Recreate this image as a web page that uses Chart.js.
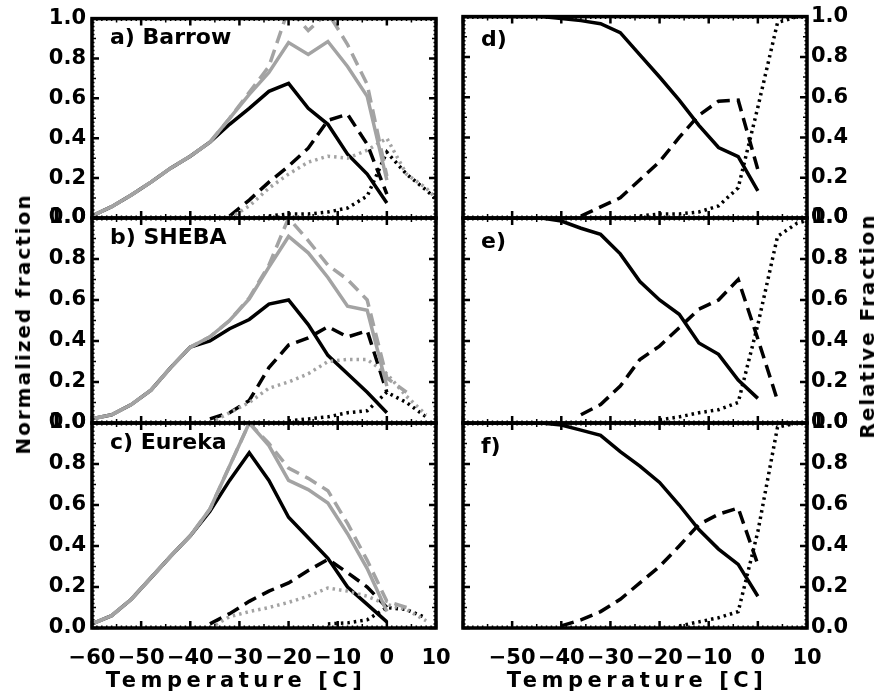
<!DOCTYPE html>
<html><head><meta charset="utf-8">
<script src="https://cdn.jsdelivr.net/npm/chart.js@4.4.1/dist/chart.umd.min.js"></script>
<style>
html,body{margin:0;padding:0;background:#fff;}
#wrap{position:relative;width:874px;height:695px;overflow:hidden;background:#fff;}
canvas{position:absolute;left:0;top:0;}
.t{position:absolute;font-family:"DejaVu Sans";font-weight:bold;color:#000;white-space:nowrap;}
</style></head><body>
<div id="wrap">
<canvas id="pa" width="874" height="695"></canvas>
<canvas id="pb" width="874" height="695"></canvas>
<canvas id="pc" width="874" height="695"></canvas>
<canvas id="pd" width="874" height="695"></canvas>
<canvas id="pe" width="874" height="695"></canvas>
<canvas id="pf" width="874" height="695"></canvas>
<div class="t" style="left:236px;top:670px;font-size:21px;line-height:21px;letter-spacing:4.5px;transform:translateX(-50%);">Temperature [C]</div>
<div class="t" style="left:637px;top:670px;font-size:21px;line-height:21px;letter-spacing:4.5px;transform:translateX(-50%);">Temperature [C]</div>
<div class="t" style="left:23px;top:324px;font-size:20px;line-height:20px;letter-spacing:2px;transform:translate(-50%,-50%) rotate(-90deg);">Normalized fraction</div>
<div class="t" style="left:867px;top:326px;font-size:20px;line-height:20px;letter-spacing:2px;transform:translate(-50%,-50%) rotate(-90deg);">Relative Fraction</div>
</div>
<script>
const N = null;
const temps = [-60,-56,-52,-48,-44,-40,-36,-32,-28,-24,-20,-16,-12,-8,-4,0,4,8,12];
const yTicks = [0.0,0.2,0.4,0.6,0.8,1.0];
const xTicks = [-60,-50,-40,-30,-20,-10,0,10];
const panelLabels = ['a) Barrow','b) SHEBA','c) Eureka','d)','e)','f)'];

// a) Barrow
const barrowBlackSolid  = [0.01,0.057,0.115,0.18,0.25,0.31,0.38,0.47,0.55,0.635,0.675,0.55,0.47,0.32,0.22,0.075,N,N,N];
const barrowGreySolid   = [0.01,0.057,0.115,0.18,0.25,0.31,0.38,0.5,0.62,0.73,0.88,0.82,0.885,0.76,0.61,0.19,N,N,N];
const barrowGreyDashed  = [0.01,0.057,0.115,0.18,0.25,0.31,0.38,0.5,0.63,0.76,1.05,0.94,1.03,0.87,0.67,0.21,N,N,N];
const barrowBlackDashed = [N,N,N,N,N,N,N,0.01,0.09,0.18,0.26,0.35,0.49,0.52,0.37,0.12,N,N,N];
const barrowGreyDotted  = [N,N,N,N,N,N,N,0.0,0.06,0.15,0.22,0.28,0.31,0.3,0.34,0.4,0.22,0.15,0.05];
const barrowBlackDotted = [N,N,N,N,N,N,N,N,N,0.01,0.02,0.02,0.03,0.05,0.11,0.33,0.22,0.14,0.05];
// b) SHEBA
const shebaBlackSolid  = [0.02,0.04,0.09,0.16,0.27,0.37,0.4,0.46,0.505,0.58,0.6,0.48,0.33,0.24,0.15,0.05,N,N,N];
const shebaGreySolid   = [0.02,0.04,0.09,0.16,0.27,0.37,0.42,0.5,0.605,0.76,0.91,0.83,0.71,0.57,0.55,0.18,N,N,N];
const shebaGreyDashed  = [0.02,0.04,0.09,0.16,0.27,0.37,0.42,0.5,0.61,0.77,1.0,0.89,0.77,0.7,0.6,0.22,0.15,N,N];
const shebaBlackDashed = [N,N,N,N,N,N,0.02,0.05,0.11,0.27,0.38,0.415,0.47,0.42,0.45,0.15,N,N,N];
const shebaGreyDotted  = [N,N,N,N,N,N,0.0,0.05,0.1,0.17,0.2,0.24,0.3,0.31,0.31,0.24,0.13,0.04,N];
const shebaBlackDotted = [N,N,N,N,N,N,N,N,N,N,0.01,0.02,0.03,0.05,0.06,0.15,0.1,0.03,N];
// c) Eureka
const eurekaBlackSolid  = [0.02,0.06,0.14,0.245,0.35,0.45,0.57,0.72,0.855,0.72,0.54,0.44,0.34,0.2,0.115,0.03,N,N,N];
const eurekaGreySolid   = [0.02,0.06,0.14,0.245,0.35,0.45,0.58,0.79,1.0,0.89,0.72,0.675,0.61,0.46,0.29,0.08,N,N,N];
const eurekaGreyDashed  = [0.02,0.06,0.14,0.245,0.35,0.45,0.58,0.79,1.0,0.9,0.78,0.73,0.67,0.51,0.33,0.13,0.1,N,N];
const eurekaBlackDashed = [N,N,N,N,N,N,0.02,0.07,0.13,0.18,0.22,0.28,0.335,0.27,0.2,0.1,N,N,N];
const eurekaGreyDotted  = [N,N,N,N,N,N,0.0,0.055,0.08,0.1,0.125,0.155,0.195,0.18,0.155,0.115,0.09,0.035,N];
const eurekaBlackDotted = [N,N,N,N,N,N,N,N,N,N,N,N,0.02,0.025,0.04,0.1,0.09,0.05,N];
// d) e) f) relative fractions
const dSolid  = [1,1,1,1,1,0.99,0.98,0.965,0.92,0.81,0.7,0.585,0.46,0.35,0.305,0.135,N,N,N];
const dDashed = [N,N,N,N,N,N,0.01,0.055,0.1,0.19,0.28,0.4,0.51,0.58,0.585,0.24,N,N,N];
const dDotted = [N,N,N,N,N,N,N,N,N,0.01,0.02,0.02,0.03,0.06,0.15,0.55,0.97,1.0,1.0];
const eSolid  = [1,1,1,1,1,0.985,0.95,0.92,0.825,0.69,0.6,0.53,0.39,0.335,0.21,0.12,N,N,N];
const eDashed = [N,N,N,N,N,N,0.04,0.09,0.18,0.31,0.375,0.465,0.555,0.6,0.7,0.41,0.11,N,N];
const eDotted = [N,N,N,N,N,N,N,N,N,N,0.015,0.03,0.05,0.065,0.1,0.48,0.91,0.975,1.0];
const fSolid  = [1,1,1,1,1,0.99,0.965,0.94,0.86,0.79,0.71,0.6,0.48,0.385,0.31,0.155,N,N,N];
const fDashed = [N,N,N,N,N,0.01,0.04,0.08,0.14,0.22,0.3,0.4,0.505,0.555,0.585,0.31,N,N,N];
const fDotted = [N,N,N,N,N,N,N,N,N,N,N,0.01,0.03,0.05,0.08,0.47,0.98,1.0,1.0];

const GREY = '#a3a3a3', BLACK = '#000000';
const SOLID = [], DASH = [13,7], DOT = [2.5,4];
const FONT = 'DejaVu Sans';
const CW = 874, CH = 695;

function series(vals, color, dash) {
  const pts = [];
  temps.forEach((t,i) => { if (vals[i] !== null) pts.push({x:t, y:vals[i]}); });
  return { data: pts, borderColor: color, borderWidth: 3.5, borderDash: dash, borderCapStyle: 'butt',
           pointRadius: 0, tension: 0, fill: false };
}

const framePlugin = {
  id: 'frame',
  afterDatasetsDraw(chart, args, opts) {
    const {ctx, chartArea: a, scales: {x, y}} = chart;
    ctx.save();
    ctx.strokeStyle = '#000';
    for (let v = -60; v <= 10; v++) {
      const px = x.getPixelForValue(v);
      const len = (v % 10 === 0) ? 7 : (v % 5 === 0 ? 4 : 2.5);
      ctx.lineWidth = (v % 10 === 0) ? 2.5 : 1.5;
      ctx.beginPath();
      ctx.moveTo(px, a.bottom); ctx.lineTo(px, a.bottom - len);
      ctx.moveTo(px, a.top); ctx.lineTo(px, a.top + len);
      ctx.stroke();
    }
    for (let i = 0; i <= 50; i++) {
      const py = y.getPixelForValue(i / 50);
      const len = (i % 10 === 0) ? 7 : (i % 5 === 0 ? 4 : 2.5);
      ctx.lineWidth = (i % 10 === 0) ? 2.5 : 1.5;
      ctx.beginPath();
      ctx.moveTo(a.left, py); ctx.lineTo(a.left + len, py);
      ctx.moveTo(a.right, py); ctx.lineTo(a.right - len, py);
      ctx.stroke();
    }
    ctx.lineWidth = 3.5;
    ctx.strokeRect(a.left, a.top, a.right - a.left, a.bottom - a.top);
    ctx.fillStyle = '#000';
    ctx.font = 'bold 22px "' + FONT + '"';
    ctx.textBaseline = 'middle';
    ctx.textAlign = 'left';
    ctx.fillText(opts.label, a.left + 18, a.top + opts.dy);
    ctx.restore();
  }
};

function fmtX(v) { return v < 0 ? '\u2212' + Math.abs(v) : String(v); }

function makePanel(id, rect, side, showX, hideFirstX, label, datasets) {
  const axisW = 50;
  const xh = showX ? 45 : 0;
  const padding = side === 'left'
    ? {left: rect.l - axisW, right: CW - rect.r, top: rect.t, bottom: CH - rect.b - xh}
    : {left: rect.l, right: CW - rect.r - axisW, top: rect.t, bottom: CH - rect.b - xh};
  return new Chart(document.getElementById(id), {
    type: 'line',
    data: { datasets },
    plugins: [framePlugin],
    options: {
      responsive: false, animation: false, devicePixelRatio: 1,
      layout: { padding },
      plugins: { legend: {display: false}, tooltip: {enabled: false},
                 frame: {label, dy: side === 'left' ? 20 : 24} },
      events: [],
      scales: {
        x: {
          type: 'linear', min: -60, max: 10, position: 'bottom',
          afterBuildTicks: s => { s.ticks = xTicks.map(v => ({value: v})); },
          afterFit: s => { s.height = xh; },
          grid: {display: false, drawTicks: false}, border: {display: false},
          ticks: { display: showX, padding: 18, color: '#000', maxRotation: 0, autoSkip: false,
                   font: {family: FONT, size: 21, weight: 'bold'},
                   callback: v => (hideFirstX && v === -60) ? '' : fmtX(v) }
        },
        y: {
          type: 'linear', min: 0, max: 1, position: side,
          afterBuildTicks: s => { s.ticks = yTicks.map(v => ({value: v})); },
          afterFit: s => { s.width = axisW; },
          grid: {display: false, drawTicks: false}, border: {display: false},
          ticks: { padding: side === 'left' ? 6 : 4, color: '#000', autoSkip: false,
                   font: {family: FONT, size: 21, weight: 'bold'},
                   callback: v => Number(v).toFixed(1) }
        }
      }
    }
  });
}

const L = {l: 92, r: 436}, R = {l: 463, r: 807};
const rows = [{t: 13, b: 218}, {t: 218, b: 423}, {t: 423, b: 628}];

makePanel('pa', {...L, ...rows[0]}, 'left', false, false, panelLabels[0], [
  series(barrowGreySolid, GREY, SOLID), series(barrowGreyDashed, GREY, DASH), series(barrowGreyDotted, GREY, DOT),
  series(barrowBlackSolid, BLACK, SOLID), series(barrowBlackDashed, BLACK, DASH), series(barrowBlackDotted, BLACK, DOT)]);
makePanel('pb', {...L, ...rows[1]}, 'left', false, false, panelLabels[1], [
  series(shebaGreySolid, GREY, SOLID), series(shebaGreyDashed, GREY, DASH), series(shebaGreyDotted, GREY, DOT),
  series(shebaBlackSolid, BLACK, SOLID), series(shebaBlackDashed, BLACK, DASH), series(shebaBlackDotted, BLACK, DOT)]);
makePanel('pc', {...L, ...rows[2]}, 'left', true, false, panelLabels[2], [
  series(eurekaGreySolid, GREY, SOLID), series(eurekaGreyDashed, GREY, DASH), series(eurekaGreyDotted, GREY, DOT),
  series(eurekaBlackSolid, BLACK, SOLID), series(eurekaBlackDashed, BLACK, DASH), series(eurekaBlackDotted, BLACK, DOT)]);
makePanel('pd', {...R, ...rows[0]}, 'right', false, true, panelLabels[3], [
  series(dSolid, BLACK, SOLID), series(dDashed, BLACK, DASH), series(dDotted, BLACK, DOT)]);
makePanel('pe', {...R, ...rows[1]}, 'right', false, true, panelLabels[4], [
  series(eSolid, BLACK, SOLID), series(eDashed, BLACK, DASH), series(eDotted, BLACK, DOT)]);
makePanel('pf', {...R, ...rows[2]}, 'right', true, true, panelLabels[5], [
  series(fSolid, BLACK, SOLID), series(fDashed, BLACK, DASH), series(fDotted, BLACK, DOT)]);
</script>
</body></html>
